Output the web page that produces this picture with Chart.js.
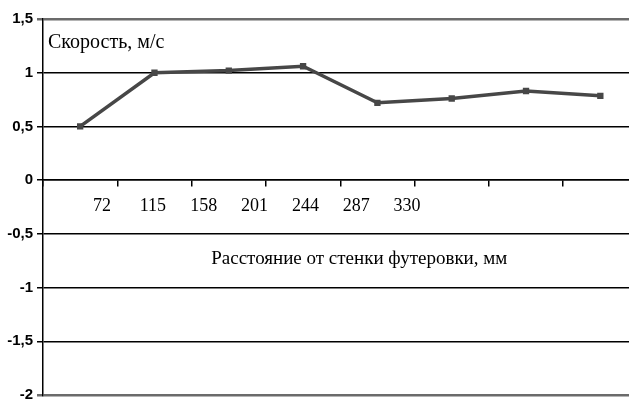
<!DOCTYPE html>
<html lang="ru">
<head>
  <meta charset="UTF-8" />
  <title>Скорость</title>
  <script src="https://cdn.jsdelivr.net/npm/chart.js"></script>
  <style>
    html, body { margin: 0; padding: 0; background: #fff; overflow: hidden; }
    #wrap { width: 629px; height: 401px; overflow: hidden; }
  </style>
</head>
<body>
  <!-- plot runs a few px past the right edge, as in the original -->
  <div id="wrap"><canvas id="chart" width="643" height="401"></canvas></div>

  <script>
    // points along the line (hidden category axis)
    const pointIds = ['1', '2', '3', '4', '5', '6', '7', '8'];
    const speed = [0.5, 1.0, 1.02, 1.06, 0.72, 0.76, 0.83, 0.785];
    // distance labels under the axis, mm
    const distTicks = [72, 115, 158, 201, 244, 287, 330];
    const yTicks = [-2, -1.5, -1, -0.5, 0, 0.5, 1, 1.5];

    const serif = '"Liberation Serif", "Times New Roman", serif';

    // axis captions drawn inside the plot
    const captions = {
      id: 'captions',
      afterDraw(chart) {
        const { ctx, chartArea, scales } = chart;
        ctx.save();
        ctx.fillStyle = '#000';
        ctx.textBaseline = 'middle';
        ctx.textAlign = 'left';
        ctx.font = '20px ' + serif;
        ctx.fillText('Скорость, м/с', chartArea.left + 5, scales.y.getPixelForValue(1.28));
        ctx.textAlign = 'center';
        ctx.font = '19px ' + serif;
        ctx.fillText('Расстояние от стенки футеровки, мм',
          chartArea.left + (chartArea.right - chartArea.left) * 0.532,
          scales.y.getPixelForValue(-0.73));
        ctx.restore();
      }
    };

    new Chart(document.getElementById('chart'), {
      type: 'line',
      data: {
        labels: pointIds,
        datasets: [{
          data: speed,
          borderColor: '#474747',
          backgroundColor: '#474747',
          borderWidth: 3.5,
          pointStyle: 'rect',
          pointRadius: 2,
          pointHoverRadius: 2,
          tension: 0
        }]
      },
      options: {
        responsive: false,
        animation: false,
        layout: { padding: { top: 19, right: 0, bottom: 6, left: 0 } },
        plugins: { legend: { display: false }, tooltip: { enabled: false } },
        scales: {
          x: {
            type: 'category',
            position: { y: 0 },
            offset: true,
            ticks: { display: false },
            grid: { offset: true, drawOnChartArea: false, color: '#000', lineWidth: 1.5, tickLength: 6 },
            border: { color: '#000', width: 1.5 }
          },
          x2: {
            type: 'linear',
            position: { y: 0 },
            min: 22,
            max: 525,
            afterBuildTicks: (axis) => { axis.ticks = distTicks.map(v => ({ value: v })); },
            ticks: { color: '#000', font: { family: serif, size: 18 }, padding: 7, maxRotation: 0, autoSkip: false },
            grid: { display: false },
            border: { display: false }
          },
          y: {
            min: -2,
            max: 1.5,
            afterBuildTicks: (axis) => { axis.ticks = yTicks.map(v => ({ value: v })); },
            afterFit: (axis) => { axis.width = 43; axis.paddingTop = 0; axis.paddingBottom = 0; },
            ticks: {
              color: '#000',
              padding: 4,
              font: { family: '"Liberation Sans Narrow", "Liberation Sans", Arial, sans-serif', size: 15, weight: 'bold' },
              callback: (v) => String(v).replace('.', ',')
            },
            grid: {
              color: (c) => (c.tick && (c.tick.value === 1.5 || c.tick.value === -2)) ? '#6b6b6b' : '#000',
              lineWidth: (c) => (c.tick && (c.tick.value === 1.5 || c.tick.value === -2)) ? 2.5 : 1.5,
              tickLength: 6
            },
            border: { color: '#000', width: 1.5 }
          }
        }
      },
      plugins: [captions]
    });
  </script>
</body>
</html>
